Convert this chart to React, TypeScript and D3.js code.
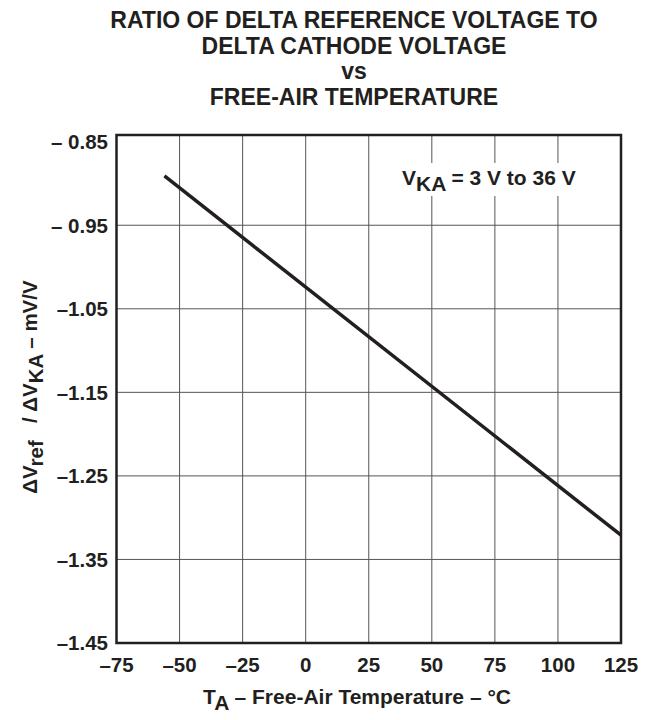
import * as d3 from 'd3'

const titleLines = ['RATIO OF DELTA REFERENCE VOLTAGE TO', 'DELTA CATHODE VOLTAGE', 'vs', 'FREE-AIR TEMPERATURE']
const xTicks = [-75, -50, -25, 0, 25, 50, 75, 100, 125]
const xTickLabels = ['–75', '–50', '–25', '0', '25', '50', '75', '100', '125']
const yTicks = [-0.85, -0.95, -1.05, -1.15, -1.25, -1.35, -1.45]
const yTickLabels = ['– 0.85', '– 0.95', '–1.05', '–1.15', '–1.25', '–1.35', '–1.45']
const temps = [-56, 125]
const ratio = [-0.891, -1.321]

const W = 652
const H = 720
const m = { left: 116.5, right: 621, top: 135, bottom: 643 }
const font = 'Arial, "Liberation Sans", Helvetica, sans-serif'

export default function App() {
  const x = d3.scaleLinear().domain([-75, 125]).range([m.left, m.right])
  const y = d3.scaleLinear().domain([-1.45, -0.842]).range([m.bottom, m.top])
  const pts: [number, number][] = temps.map((t, i) => [t, ratio[i]])
  const line = d3.line<[number, number]>().x(d => x(d[0])).y(d => y(d[1]))

  return (
    <svg width={W} height={H} style={{ position: 'absolute', left: 0, top: 0, background: '#fff' }}
      fontFamily={font} fontWeight="bold" fill="#231f20">
      <g textAnchor="middle" fontSize={23}>
        {titleLines.map((t, i) => (
          <text key={i} x={354} y={28 + i * 25.7}>{t}</text>
        ))}
      </g>

      {/* grid */}
      <g stroke="#555" strokeWidth={1}>
        {xTicks.slice(1, -1).map(t => (
          <line key={t} x1={x(t)} x2={x(t)} y1={m.top} y2={m.bottom} />
        ))}
        {yTicks.slice(1, -1).map(t => (
          <line key={t} x1={m.left} x2={m.right} y1={y(t)} y2={y(t)} />
        ))}
      </g>

      {/* legend box */}
      <rect x={394} y={163} width={204} height={33} fill="#fff" />
      <text x={402} y={185} fontSize={21}>
        V<tspan dy={6}>KA</tspan><tspan dy={-6}> = 3 V to 36 V</tspan>
      </text>

      <path d={line(pts) ?? ''} fill="none" stroke="#231f20" strokeWidth={3.5} />

      <rect x={m.left} y={m.top} width={m.right - m.left} height={m.bottom - m.top}
        fill="none" stroke="#231f20" strokeWidth={2.5} />

      <g textAnchor="end" fontSize={20.5}>
        {yTicks.map((t, i) => (
          <text key={t} x={108} y={y(t) + 7.3}>{yTickLabels[i]}</text>
        ))}
      </g>
      <g textAnchor="middle" fontSize={20.5}>
        {xTicks.map((t, i) => (
          <text key={t} x={x(t)} y={672}>{xTickLabels[i]}</text>
        ))}
      </g>

      <text x={357} y={704} textAnchor="middle" fontSize={21}>
        T<tspan dy={6}>A</tspan><tspan dy={-6}> – Free-Air Temperature – °C</tspan>
      </text>

      <text transform={`translate(37,${387}) rotate(-90)`} textAnchor="middle" fontSize={20.5}>
        ΔV<tspan dy={6}>ref</tspan><tspan dy={-6} xmlSpace="preserve">   / ΔV</tspan><tspan dy={6}>KA</tspan><tspan dy={-6}> – mV/V</tspan>
      </text>
    </svg>
  )
}
